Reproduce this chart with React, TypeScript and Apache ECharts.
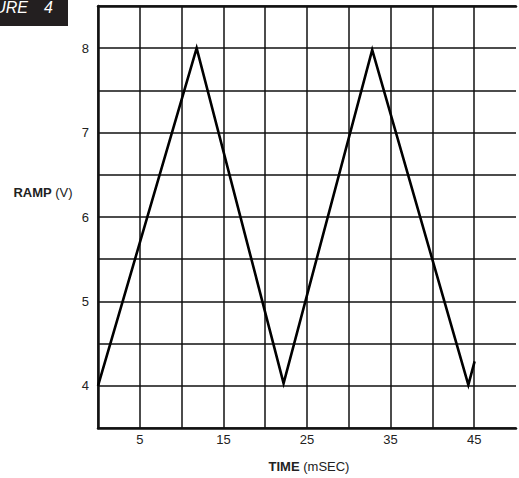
import React, { useEffect, useRef } from "react";
import * as echarts from "echarts";

const times = [0, 11.8, 22.2, 32.8, 44.3, 45.05];
const ramp = [4.0, 8.0, 4.03, 7.98, 4.01, 4.29];
const xTickLabels = [5, 15, 25, 35, 45];
const yTickLabels = [4, 5, 6, 7, 8];

const FONT = "'Liberation Sans', Arial, Helvetica, sans-serif";

export default function App() {
  const ref = useRef<HTMLDivElement>(null);
  useEffect(() => {
    if (!ref.current) return;
    const chart = echarts.init(ref.current, null, { renderer: "svg" });
    const data = times.map((t, i) => [t, ramp[i]]);
    chart.setOption({
      animation: false,
      backgroundColor: "#ffffff",
      textStyle: { fontFamily: FONT },
      grid: { left: 98, top: 6, right: 1, bottom: 50 },
      xAxis: [
        {
          type: "value",
          min: 0,
          max: 50,
          interval: 5,
          position: "bottom",
          axisLine: { show: true, onZero: false, lineStyle: { color: "#111", width: 2.5 } },
          axisTick: { show: false },
          splitLine: { show: true, showMaxLine: false, lineStyle: { color: "#111", width: 1.5 } },
          axisLabel: {
            margin: 5,
            fontSize: 13,
            color: "#222",
            fontFamily: FONT,
            formatter: (v: number) => (xTickLabels.includes(v) ? String(v) : ""),
          },
        },
        {
          type: "value",
          min: 0,
          max: 50,
          position: "top",
          axisLine: { show: true, onZero: false, lineStyle: { color: "#111", width: 2.5 } },
          axisTick: { show: false },
          axisLabel: { show: false },
          splitLine: { show: false },
        },
      ],
      yAxis: {
        type: "value",
        min: 3.5,
        max: 8.5,
        interval: 0.5,
        axisLine: { show: true, onZero: false, lineStyle: { color: "#111", width: 2.5 } },
        axisTick: { show: false },
        splitLine: { show: true, lineStyle: { color: "#111", width: 1.5 } },
        axisLabel: {
          margin: 9,
          fontSize: 13,
          color: "#222",
          fontFamily: FONT,
          formatter: (v: number) => (yTickLabels.includes(v) ? String(v) : ""),
        },
      },
      series: [
        {
          type: "line",
          xAxisIndex: 0,
          data,
          symbol: "none",
          lineStyle: { color: "#000", width: 2.6, join: "miter" },
          z: 5,
        },
      ],
      graphic: [
        {
          type: "rect",
          left: 0,
          top: 0,
          shape: { width: 68, height: 26 },
          style: { fill: "#231f20" },
        },
        {
          type: "text",
          x: 28,
          y: 7,
          style: {
            text: "FIGURE",
            fill: "#ffffff",
            font: `italic 16px ${FONT}`,
            align: "right",
            verticalAlign: "middle",
          },
        },
        {
          type: "text",
          x: 53,
          y: 7,
          style: {
            text: "4",
            fill: "#ffffff",
            font: `italic 16px ${FONT}`,
            align: "right",
            verticalAlign: "middle",
          },
        },
        {
          type: "text",
          x: 43,
          y: 192,
          style: {
            text: "{b|RAMP} (V)",
            fill: "#222",
            font: `13px ${FONT}`,
            align: "center",
            verticalAlign: "middle",
            rich: {
              b: { fontWeight: "bold", fontSize: 13, fontFamily: FONT, fill: "#222" },
            },
          },
        },
        {
          type: "text",
          x: 309,
          y: 466,
          style: {
            text: "{b|TIME} (mSEC)",
            fill: "#222",
            font: `13px ${FONT}`,
            align: "center",
            verticalAlign: "middle",
            rich: {
              b: { fontWeight: "bold", fontSize: 13, fontFamily: FONT, fill: "#222" },
            },
          },
        },
      ],
    });
    return () => chart.dispose();
  }, []);
  return (
    <div
      ref={ref}
      style={{ position: "fixed", left: 0, top: 0, width: 519, height: 478 }}
    />
  );
}
